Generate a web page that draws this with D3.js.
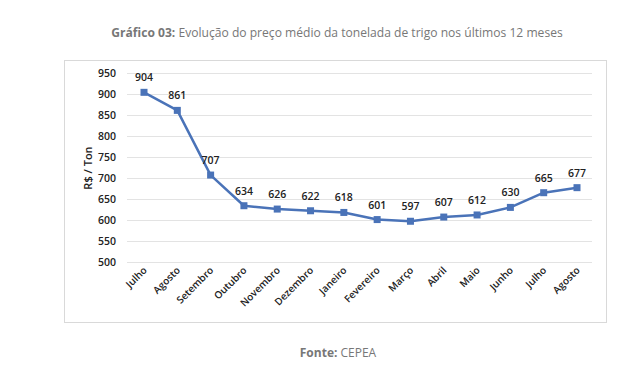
<!DOCTYPE html>
<html><head><meta charset="utf-8">
<script src="https://cdn.jsdelivr.net/npm/d3@7"></script>
<style>
html,body{margin:0;padding:0;background:#fff;}
svg{display:block;}
</style></head>
<body>
<svg id="c" width="640" height="374"></svg>
<script>
const months = ["Julho","Agosto","Setembro","Outubro","Novembro","Dezembro","Janeiro","Fevereiro","Março","Abril","Maio","Junho","Julho","Agosto"];
const prices = [904,861,707,634,626,622,618,601,597,607,612,630,665,677];
const yTicks = [500,550,600,650,700,750,800,850,900,950];

const svg = d3.select("#c");
const font = "'Open Sans', 'Noto Sans', sans-serif";

// title
const title = svg.append("text").attr("x", 337).attr("y", 37).attr("text-anchor","middle")
  .attr("font-family", font).attr("font-size", 12.1).attr("fill", "#777");
title.append("tspan").attr("font-weight", 700).text("Gráfico 03:");
title.append("tspan").text(" Evolução do preço médio da tonelada de trigo nos últimos 12 meses");

// box
svg.append("rect").attr("x", 64.5).attr("y", 60.5).attr("width", 542).attr("height", 262)
  .attr("fill","none").attr("stroke","#d9d9d9").attr("stroke-width",1);

const x = d3.scalePoint().domain(d3.range(months.length)).range([144, 577]);
const y = d3.scaleLinear().domain([500, 950]).range([262, 73]);

// gridlines
svg.append("g").selectAll("line").data(yTicks).join("line")
  .attr("x1", 127).attr("x2", 592)
  .attr("y1", d => Math.round(y(d)) + 0.5).attr("y2", d => Math.round(y(d)) + 0.5)
  .attr("stroke", "#e3e3e3").attr("stroke-width", 1);

// y axis labels
const yAxis = d3.axisLeft(y).tickValues(yTicks).tickSize(0).tickPadding(0);
const yg = svg.append("g").attr("transform", "translate(116,0)").call(yAxis);
yg.select(".domain").remove();
yg.selectAll("text").attr("font-family", font).attr("font-size", 10.5).attr("font-weight", 600).attr("fill", "#222");

// y title
svg.append("text").attr("transform", "translate(92,168) rotate(-90)").attr("text-anchor","middle")
  .attr("font-family", font).attr("font-size", 11).attr("font-weight", 600).attr("fill","#222")
  .text("R$ / Ton");

// x labels
const xAxis = d3.axisBottom(x).tickSize(0).tickFormat(i => months[i]);
const xg = svg.append("g").attr("transform", "translate(0,265)").call(xAxis);
xg.select(".domain").remove();
xg.selectAll("text")
  .attr("font-family", font).attr("font-size", 10).attr("font-weight", 600).attr("fill", "#222")
  .attr("text-anchor", "end").attr("dy", null).attr("y", 0)
  .attr("transform", "translate(3,6) rotate(-45)");

// line
const line = d3.line().x((d,i) => x(i)).y(d => y(d));
svg.append("path").datum(prices).attr("d", line).attr("fill","none")
  .attr("stroke", "#4a73b8").attr("stroke-width", 2.5).attr("stroke-linejoin","round");

svg.append("g").selectAll("rect").data(prices).join("rect")
  .attr("x", (d,i) => x(i) - 3.5).attr("y", d => y(d) - 3.5)
  .attr("width", 7).attr("height", 7).attr("fill", "#4a73b8");

// value labels
svg.append("g").selectAll("text").data(prices).join("text")
  .attr("x", (d,i) => x(i)).attr("y", d => y(d) - 11)
  .attr("text-anchor","middle")
  .attr("font-family", font).attr("font-size", 10.5).attr("font-weight", 600).attr("fill", "#222")
  .text(d => d);

// source
const src = svg.append("text").attr("x", 338).attr("y", 357).attr("text-anchor","middle")
  .attr("font-family", font).attr("font-size", 12).attr("fill", "#777");
src.append("tspan").attr("font-weight", 700).text("Fonte:");
src.append("tspan").text(" CEPEA");
</script>
</body></html>
